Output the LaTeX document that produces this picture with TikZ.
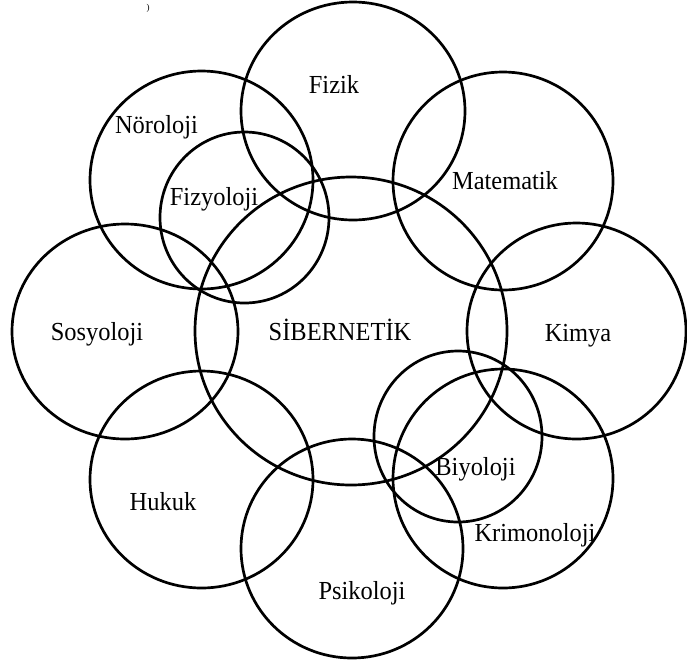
\documentclass[tikz,border=0pt]{standalone}
\usepackage{fontspec}
\setmainfont{Liberation Serif}
\newcommand{\narrowtxt}[1]{\scalebox{0.94}[1]{#1}}
\begin{document}
\begin{tikzpicture}[x=1pt,y=-1pt,
  ring/.style={line width=2.7pt},
  lbl/.style={font=\fontsize{26}{29}\selectfont, anchor=base, inner sep=0pt}]
\useasboundingbox (0,0) rectangle (687,665);
% circle centres
\coordinate (cSib)  at (351,331);
\coordinate (cFiz)  at (353,111);
\coordinate (cMat)  at (503,181);
\coordinate (cKim)  at (576.5,331);
\coordinate (cNor)  at (201.5,180);
\coordinate (cFzy)  at (244.5,217.5);
\coordinate (cSos)  at (125,331.5);
\coordinate (cHuk)  at (201.5,479.5);
\coordinate (cPsi)  at (352,548.5);
\coordinate (cBiy)  at (458,436.5);
\coordinate (cKri)  at (503,478.5);
% circles
\draw[ring] (cSib) ellipse [x radius=156pt, y radius=154pt];
\draw[ring] (cFiz) ellipse [x radius=112pt, y radius=109pt];
\draw[ring] (cMat) ellipse [x radius=110pt, y radius=109pt];
\draw[ring] (cKim) ellipse [x radius=109.5pt, y radius=108pt];
\draw[ring] (cNor) ellipse [x radius=111.5pt, y radius=109pt];
\draw[ring] (cFzy) ellipse [x radius=84.5pt, y radius=85.5pt];
\draw[ring] (cSos) ellipse [x radius=113pt, y radius=107.5pt];
\draw[ring] (cHuk) ellipse [x radius=111.5pt, y radius=108.5pt];
\draw[ring] (cPsi) ellipse [x radius=111pt, y radius=109.5pt];
\draw[ring] (cBiy) ellipse [x radius=84pt, y radius=85.5pt];
\draw[ring] (cKri) ellipse [x radius=110pt, y radius=109.5pt];
% labels
\node[lbl] (tFiz) at (334,93)    {\narrowtxt{Fizik}};
\node[lbl] (tNor) at (156.5,133) {\narrowtxt{Nöroloji}};
\node[lbl] (tFzy) at (214,205)   {\narrowtxt{Fizyoloji}};
\node[lbl] (tMat) at (505,189)   {\narrowtxt{Matematik}};
\node[lbl] (tSos) at (97,340)    {\narrowtxt{Sosyoloji}};
\node[lbl] (tSib) at (340,340)   {\narrowtxt{SİBERNETİK}};
\node[lbl] (tKim) at (578,341)   {\narrowtxt{Kimya}};
\node[lbl] (tHuk) at (163,510)   {\narrowtxt{Hukuk}};
\node[lbl] (tPsi) at (362,599)   {\narrowtxt{Psikoloji}};
\node[lbl] (tBiy) at (475.5,475) {\narrowtxt{Biyoloji}};
\node[lbl] (tKri) at (535,541)   {\narrowtxt{Krimonoloji}};
\node[font=\fontsize{9}{10}\selectfont, inner sep=0pt] (mark) at (148,8) {)};
\end{tikzpicture}
\end{document}
